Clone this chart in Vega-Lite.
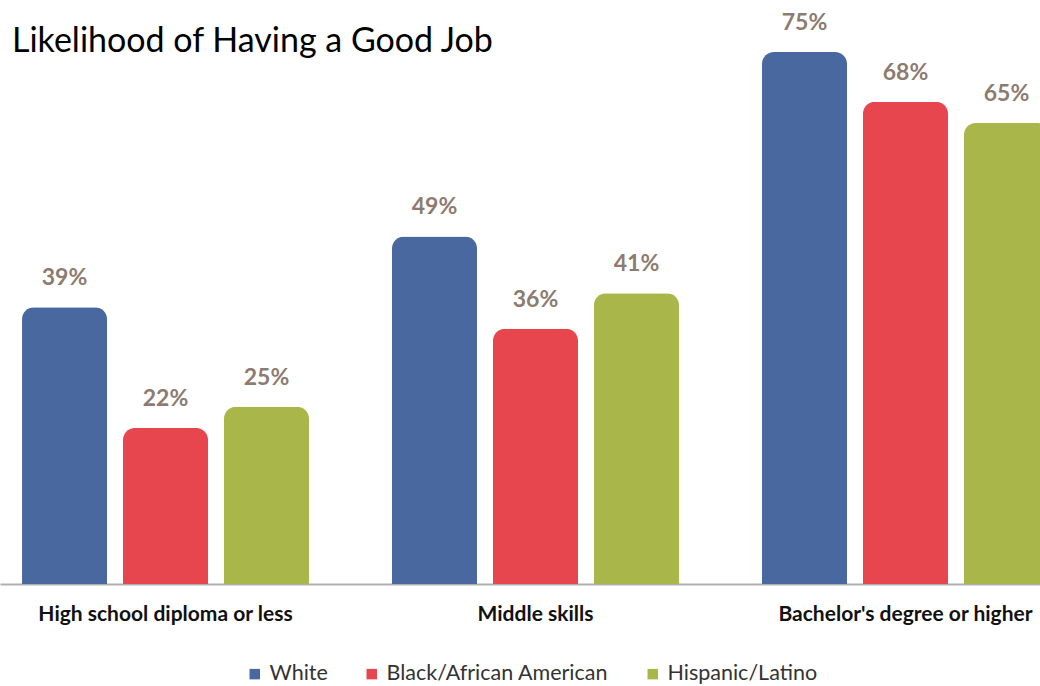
{
  "$schema": "https://vega.github.io/schema/vega-lite/v6.json",
  "width": 1040,
  "height": 532,
  "autosize": {"type": "none"},
  "padding": {"left": 0, "top": 52, "right": 0, "bottom": 102},
  "background": "white",
  "title": {
    "text": "Likelihood of Having a Good Job",
    "anchor": "start",
    "frame": "group",
    "font": "Lato",
    "fontSize": 34,
    "fontWeight": "normal",
    "color": "#000000",
    "dx": 12,
    "offset": -47
  },
  "config": {"view": {"stroke": null}},
  "data": {
    "values": [
      {"level": "High school diploma or less", "race": "White", "value": 39, "label": "39%"},
      {"level": "High school diploma or less", "race": "Black/African American", "value": 22, "label": "22%"},
      {"level": "High school diploma or less", "race": "Hispanic/Latino", "value": 25, "label": "25%"},
      {"level": "Middle skills", "race": "White", "value": 49, "label": "49%"},
      {"level": "Middle skills", "race": "Black/African American", "value": 36, "label": "36%"},
      {"level": "Middle skills", "race": "Hispanic/Latino", "value": 41, "label": "41%"},
      {"level": "Bachelor's degree or higher", "race": "White", "value": 75, "label": "75%"},
      {"level": "Bachelor's degree or higher", "race": "Black/African American", "value": 68, "label": "68%"},
      {"level": "Bachelor's degree or higher", "race": "Hispanic/Latino", "value": 65, "label": "65%"}
    ]
  },
  "encoding": {
    "x": {
      "field": "level",
      "type": "nominal",
      "sort": ["High school diploma or less", "Middle skills", "Bachelor's degree or higher"],
      "scale": {"range": [0, 1071], "paddingInner": 0.2243, "paddingOuter": 0.0595},
      "axis": {
        "title": null,
        "labelAngle": 0,
        "labelFont": "Lato",
        "labelFontSize": 21,
        "labelFontWeight": "bold",
        "labelColor": "#111111",
        "labelPadding": 19,
        "labelLimit": 0,
        "ticks": false,
        "domainColor": "#b0b0b0",
        "domainWidth": 2
      }
    },
    "xOffset": {
      "field": "race",
      "type": "nominal",
      "sort": ["White", "Black/African American", "Hispanic/Latino"],
      "scale": {"paddingInner": 0.158, "paddingOuter": 0}
    },
    "y": {
      "field": "value",
      "type": "quantitative",
      "scale": {"domain": [0, 75], "nice": false},
      "axis": null
    }
  },
  "layer": [
    {
      "mark": {"type": "bar", "cornerRadiusTopLeft": 12, "cornerRadiusTopRight": 12},
      "encoding": {
        "color": {
          "field": "race",
          "type": "nominal",
          "sort": ["White", "Black/African American", "Hispanic/Latino"],
          "scale": {
            "domain": ["White", "Black/African American", "Hispanic/Latino"],
            "range": ["#4a68a0", "#e8464e", "#a8b64a"]
          },
          "legend": {
            "title": null,
            "orient": "none",
            "legendX": 244,
            "legendY": 611,
            "direction": "horizontal",
            "symbolType": "square",
            "symbolSize": 110,
            "labelFont": "Lato",
            "labelFontSize": 21.5,
            "labelColor": "#333333",
            "labelLimit": 0,
            "columnPadding": 33
          }
        }
      }
    },
    {
      "mark": {
        "type": "text",
        "baseline": "bottom",
        "dy": -17,
        "font": "Lato",
        "fontSize": 23,
        "fontWeight": "bold",
        "color": "#8c7b70"
      },
      "encoding": {"text": {"field": "label"}}
    }
  ]
}
